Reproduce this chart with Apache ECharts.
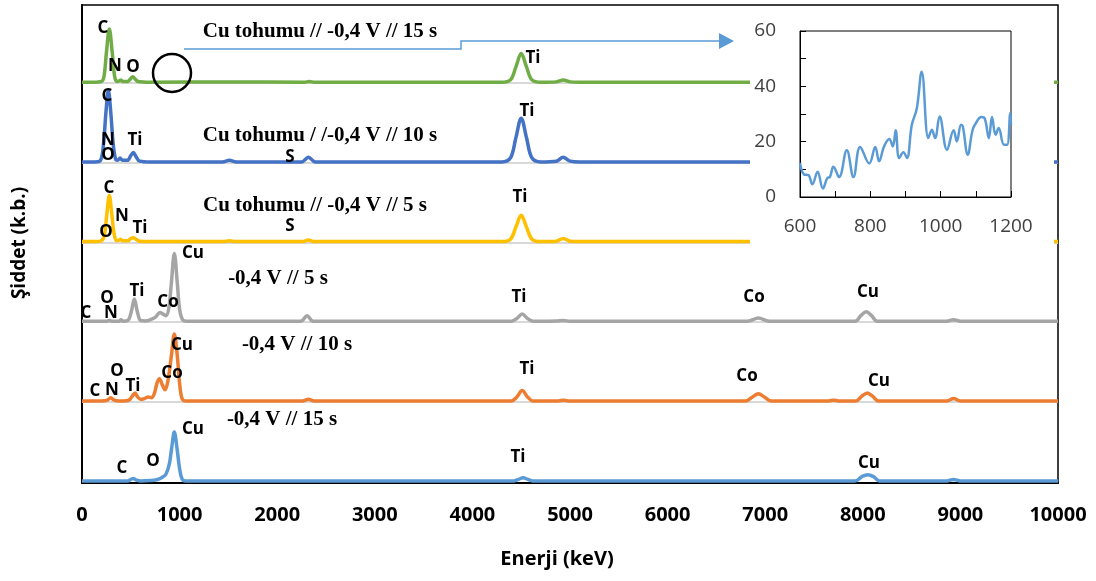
<!DOCTYPE html>
<html>
<head>
<meta charset="utf-8">
<script src="https://cdn.jsdelivr.net/npm/echarts@6/dist/echarts.min.js"></script>
<style>
  html, body { margin: 0; padding: 0; background: #fff; }
  #chart { width: 1096px; height: 581px; }
</style>
</head>
<body>
<div id="chart"></div>
<script>
// EDS spectra, stacked from top to bottom: [energy (eV), intensity (a.u.)]
const spectrumSeed15 = [[0,3],[120,3],[200,4],[225,10],[250,40],[280,70],[310,40],[335,10],[360,4],[385,5],[400,6],[415,4],[470,4],[495,7],[520,10],[545,7],[575,4],[700,3],[1500,3.5],[2280,3],[2330,4],[2380,3],[4300,3],[4390,6],[4445,22],[4500,39],[4555,22],[4610,6],[4700,3],[4860,3.5],[4930,6],[5000,3.5],[5100,3],[6000,3],[10000,3]];
const spectrumSeed10 = [[0,3],[130,3],[190,5],[220,25],[245,65],[270,93],[295,65],[320,25],[345,6],[365,5],[390,8],[415,5],[465,5],[500,11],[526,15],[552,10],[590,4],[700,3],[1440,3],[1510,5],[1580,3],[2250,3],[2320,9],[2390,3],[4300,3],[4390,8],[4445,33],[4500,58],[4555,33],[4610,8],[4700,3],[4860,4],[4930,9],[5000,4],[5100,3],[10000,3]];
const spectrumSeed5 = [[0,3],[140,3],[200,4],[230,12],[255,38],[280,61],[305,38],[330,12],[355,4],[380,5],[397,6],[415,4],[470,4],[500,7],[526,8],[552,6],[590,3.5],[700,3],[1450,3],[1510,4],[1570,3],[2260,3],[2320,5],[2380,3],[4300,3],[4390,6],[4445,21],[4500,36],[4555,21],[4610,6],[4700,3],[4860,3.5],[4930,7],[5000,3.5],[5100,3],[10000,3]];
const spectrumDep5 = [[0,3],[250,3],[280,4],[310,3],[380,3],[400,5],[420,3],[470,4],[505,15],[536,31],[567,15],[600,4],[650,3.5],[700,5],[750,8],[800,14],[830,12],[861,10],[890,20],[915,50],[946,88],[977,50],[1000,18],[1030,5],[1070,3],[2240,3],[2306,10],[2370,3],[4400,3],[4460,7],[4510,12],[4560,7],[4620,3],[4860,3.5],[4930,4],[5000,3],[6820,3],[6930,7],[7040,3],[7920,3],[7980,10],[8035,15],[8090,10],[8150,3],[8860,3],[8930,5],[9000,3],[10000,3]];
const spectrumDep10 = [[0,3],[200,3],[260,4],[294,7],[330,4],[380,3],[420,3],[480,4],[515,9],[543,13],[570,8],[600,5],[640,6],[680,8],[710,7],[740,12],[770,26],[793,31],[820,24],[851,17],[880,28],[916,60],[946,87],[976,60],[1000,25],[1025,6],[1060,3],[2260,3],[2320,5],[2380,3],[4400,3],[4455,8],[4510,16],[4565,8],[4620,3],[4880,3],[4930,4],[4980,3],[6800,3],[6870,8],[6930,12],[6990,8],[7060,3],[7650,3],[7700,4],[7750,3],[7930,3],[7990,9],[8046,13],[8100,9],[8160,3],[8860,3],[8930,6],[9000,3],[10000,3]];
const spectrumDep15 = [[0,2.5],[470,2.5],[500,4.5],[526,5.5],[552,4],[600,2.5],[700,3],[765,4],[820,7],[860,11],[895,24],[920,45],[946,64],[972,45],[1000,18],[1025,5],[1060,2.5],[4420,2.5],[4470,4.5],[4520,6.5],[4570,4.5],[4620,2.5],[7920,2.5],[7990,8],[8050,10.5],[8110,8],[8170,2.5],[8860,2.5],[8930,4.5],[9000,2.5],[10000,2.5]];

const seriesTitles = ['Cu tohumu // -0,4 V // 15 s', 'Cu tohumu / /-0,4 V // 10 s', 'Cu tohumu // -0,4 V // 5 s', '-0,4 V // 5 s', '-0,4 V // 10 s', '-0,4 V // 15 s'];
const seriesColors = ['#70AD47', '#4472C4', '#FFC000', '#A5A5A5', '#ED7D31', '#5B9BD5'];
const spectra = [spectrumSeed15, spectrumSeed10, spectrumSeed5, spectrumDep5, spectrumDep10, spectrumDep15];

// magnified 600-1200 eV window of the top spectrum
const insetEnergy = [600,612,624,635,650,665,678,685,695,711,733,752,771,797,814,825,839,854,864,872,882,894,904,918,932,946,965,975,984,997,1018,1037,1046,1058,1063,1077,1091,1103,1115,1125,1137,1146,1156,1165,1180,1189,1198,1200];
const insetCounts = [12.3,8.1,7.9,4.6,9.1,3.1,6.9,7.2,10.9,7.2,16.9,7.2,18.1,12.1,18.1,12.9,18.3,21,18.3,24.1,14.1,16.2,14.1,26.1,31.9,45.3,21.3,24.3,21.3,29.1,17.1,24.1,20.1,26.1,25.5,15.3,24.3,27.3,28.9,28.5,21.3,28.9,22.5,24.9,18.9,18.9,30.3,26.1];

// element annotations (text, px, py)
const peakLabels = [
  ['C',103,28],['N',115,66],['O',133,67],['Ti',533,58],
  ['C',107,96],['N',108,140],['O',108,155],['Ti',135,140],['S',290,157],['Ti',527,111],
  ['C',109,188],['N',122,216],['O',106,232],['Ti',140,228],['S',290,226],['Ti',520,197],
  ['Cu',193,253],['C',86,313],['O',107,298],['N',111,313],['Ti',137,291],['Co',168,302],['Ti',519,297],['Co',754,297],['Cu',868,292],
  ['Cu',182,345],['O',117,371],['C',95,391],['N',112,390],['Ti',133,386],['Co',172,373],['Ti',527,369],['Co',747,376],['Cu',879,381],
  ['Cu',193,429],['C',122,468],['O',153,461],['Ti',518,457],['Cu',869,463]
];
const titlePositions = [[320,32],[320,136],[315,206],[278,279],[297,345],[282,420]];

const STEP = 100;
const chart = echarts.init(document.getElementById('chart'), null, { renderer: 'canvas' });

const mainSeries = spectra.map((pts, i) => {
  const offset = (spectra.length - 1 - i) * STEP;
  return {
    type: 'line', name: seriesTitles[i], xAxisIndex: 0, yAxisIndex: 0,
    data: pts.map(p => [p[0], p[1] + offset]),
    showSymbol: false, smooth: 0.35, z: 2 + i * 0.01,
    lineStyle: { color: seriesColors[i], width: 3.5 },
    itemStyle: { color: seriesColors[i] },
    animation: false
  };
});

// faint baselines behind each upper trace
const baselineSeries = {
  type: 'line', xAxisIndex: 0, yAxisIndex: 0, data: [], z: 1, silent: true,
  markLine: {
    z: 1, silent: true, symbol: 'none', animation: false, label: { show: false },
    lineStyle: { color: '#d9d9d9', width: 2, type: 'solid' },
    data: [1, 2, 3, 4, 5].map(k => ({ yAxis: k * STEP + 2 }))
  }
};

const insetSeries = {
  type: 'line', xAxisIndex: 1, yAxisIndex: 1, z: 12,
  data: insetEnergy.map((e, i) => [e, insetCounts[i]]),
  showSymbol: false, smooth: 0.4,
  lineStyle: { color: '#5B9BD5', width: 2.5 }, animation: false
};

const graphics = [
  { type: 'rect', shape: { x: 750, y: 8, width: 304, height: 242 }, style: { fill: '#fff' }, z: 5 },
  { type: 'polyline', shape: { points: [[184,49],[461,49],[461,41],[720,41]] }, style: { stroke: '#5B9BD5', lineWidth: 1.5, fill: null }, z: 6 },
  { type: 'polygon', shape: { points: [[719,33],[734,41],[719,49]] }, style: { fill: '#5B9BD5' }, z: 6 },
  { type: 'circle', shape: { cx: 172, cy: 73, r: 19 }, style: { stroke: '#000', lineWidth: 2.5, fill: null }, z: 6 },
  { type: 'text', x: 20, y: 243, rotation: Math.PI / 2, z: 6,
    style: { text: 'Şiddet (k.b.)', font: 'bold 19px "Open Sans"', fill: '#000', align: 'center', verticalAlign: 'middle' } },
  { type: 'text', x: 557, y: 559, z: 6,
    style: { text: 'Enerji (keV)', font: 'bold 20px "Open Sans"', fill: '#000', align: 'center', verticalAlign: 'middle' } }
];
peakLabels.forEach(([t, x, y]) => graphics.push({
  type: 'text', x, y, z: 7,
  style: { text: t, font: 'bold 17px "Open Sans"', fill: '#000', align: 'center', verticalAlign: 'middle' }
}));
seriesTitles.forEach((t, i) => graphics.push({
  type: 'text', x: titlePositions[i][0], y: titlePositions[i][1], z: 7,
  style: { text: t, font: 'bold 21px "Liberation Serif"', fill: '#000', align: 'center', verticalAlign: 'middle' }
}));

chart.setOption({
  animation: false,
  backgroundColor: '#fff',
  grid: [
    { left: 82, right: 38, top: 5, bottom: 98, show: true, borderColor: '#000', borderWidth: 1.5, backgroundColor: 'transparent' },
    { left: 800, top: 31, width: 211, height: 166, show: true, borderColor: '#000', borderWidth: 1, backgroundColor: 'transparent', z: 10 }
  ],
  xAxis: [
    { type: 'value', gridIndex: 0, min: 0, max: 10000, interval: 1000,
      axisLine: { show: true, lineStyle: { color: '#000', width: 2 } },
      axisTick: { show: false }, splitLine: { show: false },
      axisLabel: { color: '#000', fontWeight: 'bold', fontSize: 20, fontFamily: 'Open Sans', margin: 22,
        formatter: v => String(v) } },
    { type: 'value', gridIndex: 1, min: 600, max: 1200, interval: 100, z: 10,
      axisLine: { show: true, lineStyle: { color: '#000', width: 1 } },
      axisTick: { show: true, inside: true, length: 6, lineStyle: { color: '#000' } },
      splitLine: { show: false },
      axisLabel: { color: '#404040', fontSize: 19, fontFamily: 'Open Sans', margin: 20,
        formatter: v => ((v - 600) % 200 === 0 ? String(v) : '') } }
  ],
  yAxis: [
    { type: 'value', gridIndex: 0, min: 0, max: 600,
      axisLine: { show: true, lineStyle: { color: '#000', width: 2 } },
      axisTick: { show: false }, axisLabel: { show: false }, splitLine: { show: false } },
    { type: 'value', gridIndex: 1, min: 0, max: 60, interval: 10, z: 10,
      axisLine: { show: true, lineStyle: { color: '#000', width: 1 } },
      axisTick: { show: true, inside: true, length: 6, lineStyle: { color: '#000' } },
      splitLine: { show: false },
      axisLabel: { color: '#404040', fontSize: 19, fontFamily: 'Open Sans', margin: 24,
        formatter: v => (v % 20 === 0 ? String(v) : '') } }
  ],
  series: [baselineSeries].concat(mainSeries, [insetSeries]),
  graphic: graphics
});
</script>
</body>
</html>
